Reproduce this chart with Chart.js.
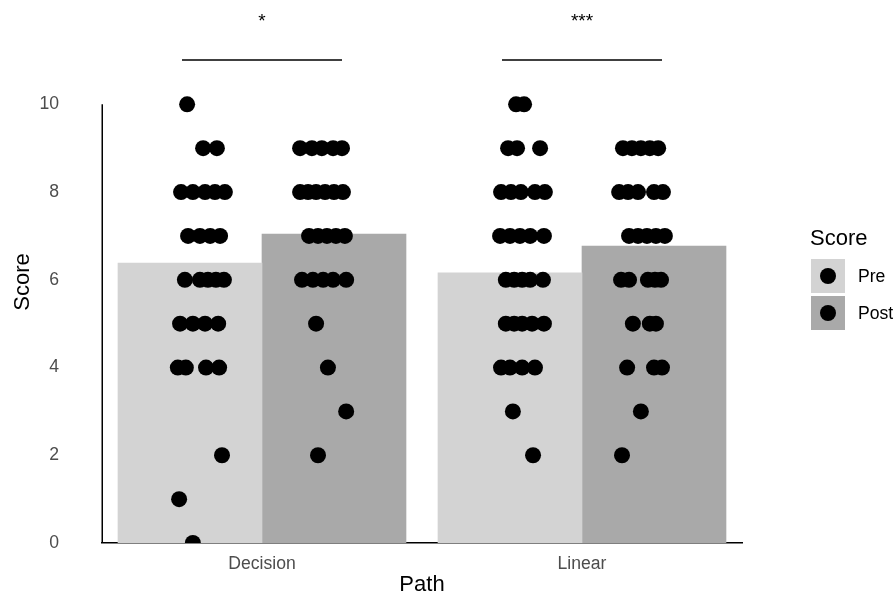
<!DOCTYPE html>
<html>
<head>
<meta charset="utf-8">
<script src="https://cdn.jsdelivr.net/npm/chart.js@4.4.1/dist/chart.umd.min.js"></script>
<style>
  html, body { margin: 0; padding: 0; background: #fff; }
  #wrap { position: relative; width: 895px; height: 596px; overflow: hidden; }
  .lg { position: absolute; font-family: "Liberation Sans", Arial, sans-serif; }
  .lg-title { left: 810px; top: 227px; font-size: 22px; line-height: 22px; color: #000; }
  .lg-key { left: 811px; width: 34px; height: 34px; }
  .lg-key span { position: absolute; left: 9px; top: 9px; width: 16px; height: 16px; border-radius: 50%; background: #000; }
  .lg-text { left: 858px; font-size: 17.6px; line-height: 34px; color: #000; }
</style>
</head>
<body>
<div id="wrap">
  <canvas id="chart" width="895" height="596"></canvas>
</div>
<script>
// categorias e séries
const categories = ['Decision', 'Linear'];
const categoryPos = [1, 2];
const seriesNames = ['Pre', 'Post'];
const dodge = [-0.225, 0.225];
const barColors = ['#d3d3d3', '#a9a9a9'];

// médias (altura das barras)
const barPre = [6.38, 6.16];
const barPost = [7.04, 6.77];

const yTicks = [0, 2, 4, 6, 8, 10];

// pontos individuais: valores e jitter horizontal (unidades do eixo x)
const decisionPreY = [10, 9, 9, 8, 8, 8, 8, 8, 7, 7, 7, 7, 6, 6, 6, 6, 6, 5, 5, 5, 5, 4, 4, 4, 4, 2, 1, 0];
const decisionPreJit = [-0.009, 0.041, 0.084, -0.028, 0.009, 0.047, 0.078, 0.109, -0.006, 0.031, 0.063, 0.094,
  -0.016, 0.031, 0.056, 0.081, 0.106, -0.031, 0.009, 0.047, 0.088, -0.038, -0.013, 0.05, 0.091, 0.1, -0.034, 0.009];

const decisionPostY = [9, 9, 9, 9, 9, 8, 8, 8, 8, 8, 8, 7, 7, 7, 7, 7, 6, 6, 6, 6, 6, 5, 4, 3, 2];
const decisionPostJit = [-0.106, -0.069, -0.038, -0.003, 0.025, -0.106, -0.081, -0.056, -0.028, 0, 0.028,
  -0.078, -0.05, -0.022, 0.006, 0.034, -0.1, -0.066, -0.034, -0.003, 0.038, -0.056, -0.019, 0.038, -0.05];

const linearPreY = [10, 10, 9, 9, 9, 8, 8, 8, 8, 8, 7, 7, 7, 7, 7, 6, 6, 6, 6, 6, 5, 5, 5, 5, 5, 4, 4, 4, 4, 3, 2];
const linearPreJit = [0.019, 0.044, -0.006, 0.022, 0.094, -0.028, 0.003, 0.034, 0.078, 0.109, -0.031, 0, 0.031, 0.063, 0.106,
  -0.013, 0.013, 0.038, 0.063, 0.103, -0.013, 0.013, 0.038, 0.069, 0.106, -0.028, 0, 0.038, 0.078, 0.009, 0.072];

const linearPostY = [9, 9, 9, 9, 9, 8, 8, 8, 8, 8, 7, 7, 7, 7, 7, 6, 6, 6, 6, 6, 5, 5, 5, 4, 4, 4, 3, 2];
const linearPostJit = [-0.097, -0.069, -0.041, -0.013, 0.013, -0.109, -0.081, -0.05, 0, 0.028, -0.078, -0.05, -0.022, 0.006, 0.034,
  -0.103, -0.078, -0.019, 0.003, 0.022, -0.066, -0.013, 0.006, -0.084, 0, 0.025, -0.041, -0.1];

// anotações de significância
const sigLabels = ['*', '***'];
const sigFrom = [0.75, 1.75];
const sigTo = [1.25, 2.25];
const sigLineY = 11;
const sigTextY = 11.76;

const FONT = '"Liberation Sans", Arial, sans-serif';

function pontos(cat, serie, ys, jit) {
  return ys.map((y, i) => ({ x: categoryPos[cat] + dodge[serie] + jit[i], y: y }));
}

const prePoints = pontos(0, 0, decisionPreY, decisionPreJit).concat(pontos(1, 0, linearPreY, linearPreJit));
const postPoints = pontos(0, 1, decisionPostY, decisionPostJit).concat(pontos(1, 1, linearPostY, linearPostJit));

// linha do eixo y (só de 0 a 10) e barras de significância
const extras = {
  id: 'extras',
  afterDraw(chart) {
    const ctx = chart.ctx;
    const xs = chart.scales.x, ys = chart.scales.y;
    ctx.save();
    ctx.strokeStyle = '#000';
    ctx.lineWidth = 1.5;
    const xl = Math.round(xs.left) + 0.25;
    ctx.beginPath();
    ctx.moveTo(xl, ys.getPixelForValue(yTicks[0]));
    ctx.lineTo(xl, ys.getPixelForValue(yTicks[yTicks.length - 1]));
    ctx.stroke();

    ctx.fillStyle = '#000';
    ctx.font = '19px ' + FONT;
    ctx.textAlign = 'center';
    ctx.textBaseline = 'alphabetic';
    sigLabels.forEach((lab, i) => {
      const yLine = Math.round(ys.getPixelForValue(sigLineY));
      ctx.beginPath();
      ctx.moveTo(xs.getPixelForValue(sigFrom[i]), yLine);
      ctx.lineTo(xs.getPixelForValue(sigTo[i]), yLine);
      ctx.stroke();
      ctx.fillText(lab, xs.getPixelForValue((sigFrom[i] + sigTo[i]) / 2), ys.getPixelForValue(sigTextY));
    });
    ctx.restore();
  }
};

new Chart(document.getElementById('chart'), {
  data: {
    datasets: [
      {
        type: 'scatter', label: seriesNames[0] + ' pts', data: prePoints, order: 1,
        pointRadius: 8, pointHoverRadius: 8, pointBorderWidth: 0,
        pointBackgroundColor: '#000', pointBorderColor: '#000'
      },
      {
        type: 'scatter', label: seriesNames[1] + ' pts', data: postPoints, order: 1,
        pointRadius: 8, pointHoverRadius: 8, pointBorderWidth: 0,
        pointBackgroundColor: '#000', pointBorderColor: '#000'
      },
      {
        type: 'bar', label: seriesNames[0], order: 2,
        data: categoryPos.map((c, i) => ({ x: c + dodge[0], y: barPre[i] })),
        backgroundColor: barColors[0], borderWidth: 0,
        grouped: false, barPercentage: 1, categoryPercentage: 1
      },
      {
        type: 'bar', label: seriesNames[1], order: 2,
        data: categoryPos.map((c, i) => ({ x: c + dodge[1], y: barPost[i] })),
        backgroundColor: barColors[1], borderWidth: 0,
        grouped: false, barPercentage: 1, categoryPercentage: 1
      }
    ]
  },
  options: {
    responsive: false,
    animation: false,
    layout: { padding: { top: 21, right: 153, bottom: 0, left: 0 } },
    plugins: { legend: { display: false }, tooltip: { enabled: false } },
    scales: {
      x: {
        type: 'linear', min: 0.5, max: 2.5, offset: false,
        afterBuildTicks: (ax) => { ax.ticks = categoryPos.map(v => ({ value: v })); },
        afterFit: (ax) => { ax.height = 53; ax.paddingLeft = 0; ax.paddingRight = 0; },
        ticks: {
          callback: (v) => categories[categoryPos.indexOf(v)],
          color: '#4d4d4d', font: { size: 17.6, family: FONT }, padding: 10.5,
          autoSkip: false, maxRotation: 0
        },
        grid: { display: false, drawTicks: false },
        border: { display: true, color: '#000', width: 1.5 },
        title: { display: true, text: 'Path', color: '#000', font: { size: 22, family: FONT }, padding: { top: 0, bottom: -2 } }
      },
      y: {
        type: 'linear', min: 0, max: 11.9,
        afterBuildTicks: (ax) => { ax.ticks = yTicks.map(v => ({ value: v })); },
        afterFit: (ax) => { ax.width = 102; ax.paddingTop = 0; ax.paddingBottom = 0; },
        ticks: { color: '#4d4d4d', font: { size: 17.6, family: FONT }, padding: 43 },
        grid: { display: false, drawTicks: false },
        border: { display: false },
        title: { display: true, text: 'Score', color: '#000', font: { size: 22, family: FONT }, padding: { top: 10, bottom: 3 } }
      }
    }
  },
  plugins: [extras]
});

// legenda à direita
const wrap = document.getElementById('wrap');
const t = document.createElement('div');
t.className = 'lg lg-title';
t.textContent = 'Score';
wrap.appendChild(t);
seriesNames.forEach((nome, i) => {
  const top = 259 + i * 37;
  const key = document.createElement('div');
  key.className = 'lg lg-key';
  key.style.top = top + 'px';
  key.style.background = barColors[i];
  key.appendChild(document.createElement('span'));
  wrap.appendChild(key);
  const txt = document.createElement('div');
  txt.className = 'lg lg-text';
  txt.style.top = top + 'px';
  txt.textContent = nome;
  wrap.appendChild(txt);
});
</script>
</body>
</html>
